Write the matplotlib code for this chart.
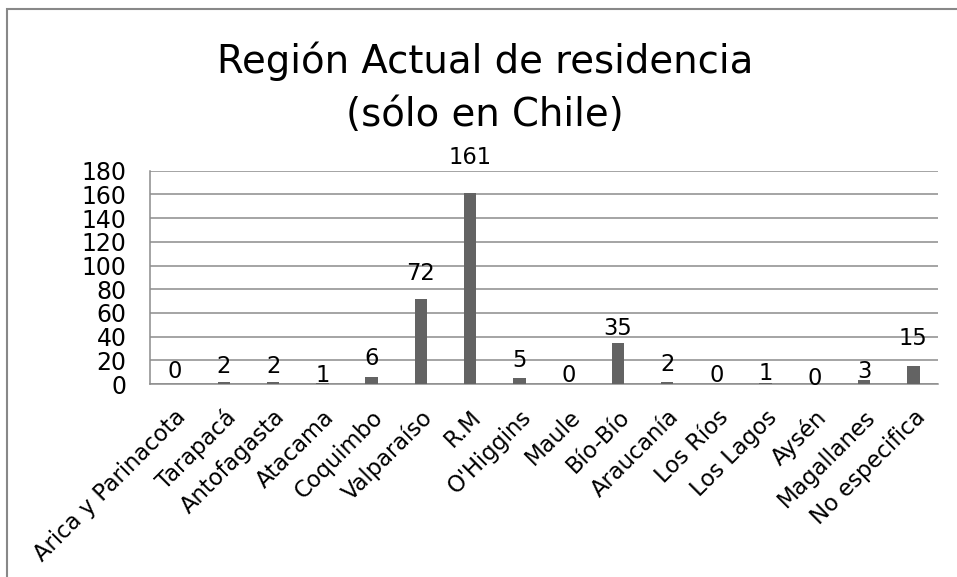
import matplotlib
matplotlib.use("Agg")
import matplotlib.pyplot as plt
from matplotlib.patches import Rectangle

regions = ["Arica y Parinacota", "Tarapacá", "Antofagasta", "Atacama", "Coquimbo",
           "Valparaíso", "R.M", "O'Higgins", "Maule", "Bío-Bío", "Araucanía",
           "Los Ríos", "Los Lagos", "Aysén", "Magallanes", "No especifica"]
counts = [0, 2, 2, 1, 6, 72, 161, 5, 0, 35, 2, 0, 1, 0, 3, 15]
yticks = [0, 20, 40, 60, 80, 100, 120, 140, 160, 180]

# label heights above bar top (the original chart places them unevenly)
label_nudge = [4.8, 7.6, 7.6, 0.4, 10, 15.8, 24.7, 9.6, 1.4, 6.3, 9, 2, 2.4, -0.8, 1.8, 18]

plt.rcParams['font.family'] = ['DejaVu Sans']

grid_col = '#8c8c8c'
bar_col = '#636363'

fig = plt.figure(figsize=(9.57, 5.77), dpi=100)
ax = fig.add_axes([150/957, 193/577, 788/957, 213.3/577])

x = list(range(len(regions)))
ax.bar(x, counts, width=0.25, color=bar_col, zorder=3)

for i, v in enumerate(counts):
    ax.text(i, v + label_nudge[i], str(v), ha='center', va='baseline',
            fontsize=16.3, color='black', zorder=4)

ax.set_xlim(-0.5, len(regions) - 0.5)
ax.set_ylim(0, 180)
ax.set_yticks(yticks)
ax.set_yticklabels([str(t) for t in yticks], fontsize=17)
ax.set_xticks(x)
ax.set_xticklabels(regions, fontsize=16.3, rotation=45, ha='right', va='top',
                   rotation_mode='anchor')
ax.tick_params(axis='y', length=0, pad=17)
ax.tick_params(axis='x', length=0, pad=15.5)

ax.yaxis.grid(True, color=grid_col, linewidth=1.1, zorder=0)
ax.set_axisbelow(True)
for s in ['top', 'right']:
    ax.spines[s].set_visible(False)
for s in ['left', 'bottom']:
    ax.spines[s].set_color(grid_col)
    ax.spines[s].set_linewidth(1.1)

fig.text(0.507, 1 - 73/577, "Región Actual de residencia", ha='center',
         va='baseline', fontsize=27.8, color='black')
fig.text(0.507, 1 - 126/577, "(sólo en Chile)", ha='center',
         va='baseline', fontsize=27.8, color='black')

# outer chart frame, only left and top edges fall inside the picture
fig.patches.append(Rectangle((7.5/957, -0.5), 1.5, 0.5 + 1 - 9/577,
                             transform=fig.transFigure, fill=False,
                             edgecolor='#888888', linewidth=1.5))

fig.savefig("out.png", dpi=100)
